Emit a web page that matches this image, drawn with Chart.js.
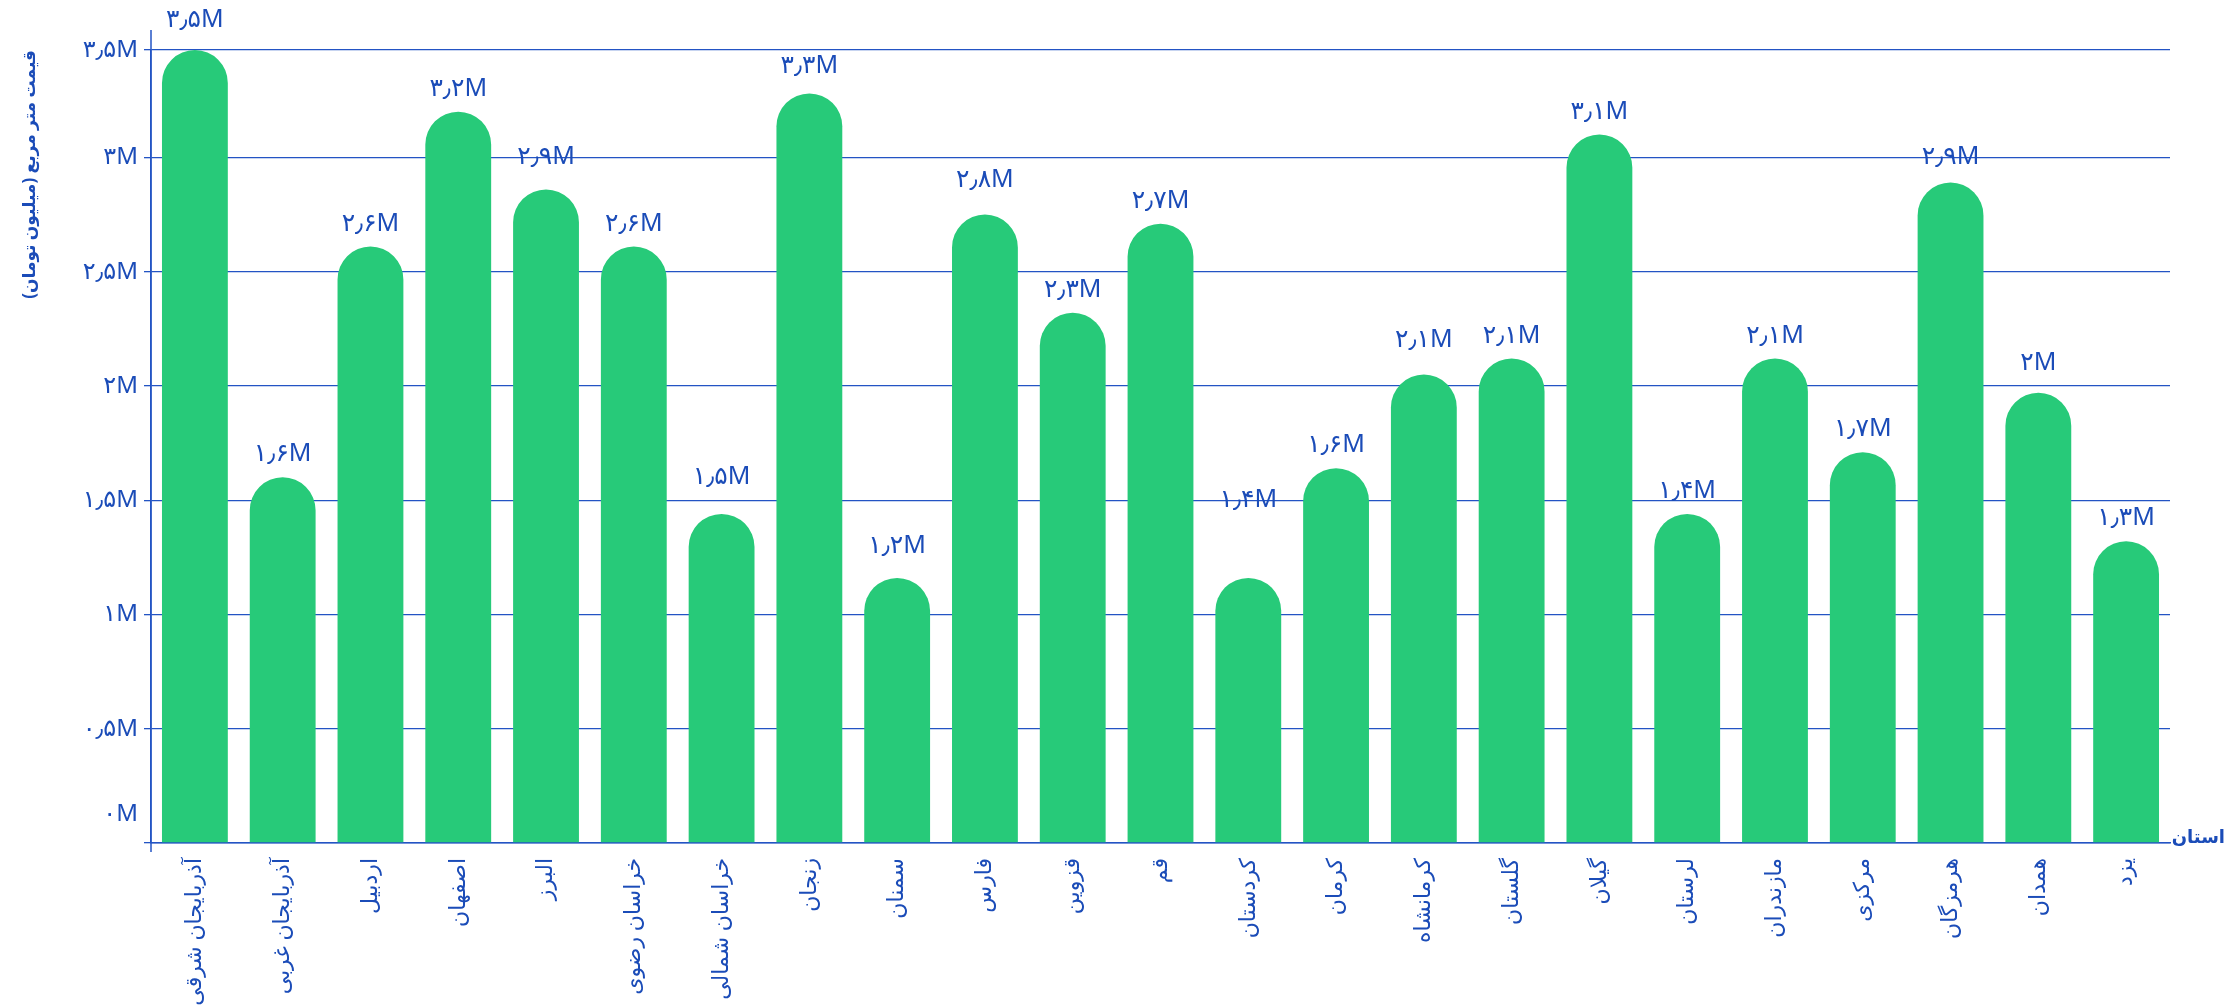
<!DOCTYPE html>
<html lang="fa">
<head>
<meta charset="utf-8">
<script src="https://cdn.jsdelivr.net/npm/chart.js@4.4.1/dist/chart.umd.min.js"></script>
<style>
    html, body { margin: 0; padding: 0; background: #ffffff; }
    #wrap { width: 2230px; height: 1007px; position: relative; }
</style>
</head>
<body>
<div id="wrap"><canvas id="chart"></canvas></div>
<script>
// Data
const provinces = [
    'آذربایجان شرقی', 'آذربایجان غربی', 'اردبیل', 'اصفهان', 'البرز', 'خراسان رضوی',
    'خراسان شمالی', 'زنجان', 'سمنان', 'فارس', 'قزوین', 'قم', 'کردستان', 'کرمان',
    'کرمانشاه', 'گلستان', 'گیلان', 'لرستان', 'مازندران', 'مرکزی', 'هرمزگان', 'همدان', 'یزد'
];
// bar heights (million toman per m2)
const pricePerMeter = [
    3.47, 1.60, 2.61, 3.20, 2.86, 2.61, 1.44, 3.28, 1.16, 2.75, 2.32, 2.71,
    1.16, 1.64, 2.05, 2.12, 3.10, 1.44, 2.12, 1.71, 2.89, 1.97, 1.32
];
// values printed above the bars
const labelValues = [
    3.5, 1.6, 2.6, 3.2, 2.9, 2.6, 1.5, 3.3, 1.2, 2.8, 2.3, 2.7,
    1.4, 1.6, 2.1, 2.1, 3.1, 1.4, 2.1, 1.7, 2.9, 2, 1.3
];
const yMax = 3.47;
const yTickValues = [0, 0.5, 1, 1.5, 2, 2.5, 3, yMax];

const yTitle = 'قیمت متر مربع (میلیون تومان)';
const xTitle = 'استان';

// Colors / fonts
const BLUE = '#1b4cb8';
const LINE = '#2354c4';
const GREEN = '#27ca79';
const FONT = "'Noto Sans', 'DejaVu Sans', sans-serif";

const faDigits = '۰۱۲۳۴۵۶۷۸۹';
function toFa(v) {
    let s = (Math.round(v * 10) / 10).toFixed(1).replace(/\.0$/, '');
    s = s.replace('.', '٫').replace(/\d/g, d => faDigits[d]);
    return s + 'M';
}

// value labels above bars + x axis title + longer y axis line
const extrasPlugin = {
    id: 'extras',
    beforeDatasetsDraw(chart) {
        const { ctx, chartArea } = chart;
        ctx.save();
        ctx.strokeStyle = LINE;
        ctx.lineWidth = 1.5;
        ctx.beginPath();
        ctx.moveTo(chartArea.left, chartArea.top - 20);
        ctx.lineTo(chartArea.left, chartArea.bottom + 9);
        ctx.stroke();
        ctx.restore();
    },
    afterDatasetsDraw(chart) {
        const { ctx, chartArea, width } = chart;
        const yScale = chart.scales.y;
        const meta = chart.getDatasetMeta(0);
        ctx.save();
        ctx.fillStyle = BLUE;
        ctx.font = `25px ${FONT}`;
        ctx.textAlign = 'center';
        ctx.textBaseline = 'alphabetic';
        meta.data.forEach((bar, i) => {
            const y = Math.min(bar.y, yScale.getPixelForValue(labelValues[i]));
            ctx.fillText(toFa(labelValues[i]), bar.x, y - 16);
        });
        ctx.font = `bold 18px ${FONT}`;
        ctx.textAlign = 'right';
        ctx.textBaseline = 'middle';
        ctx.fillText(xTitle, width - 5, chartArea.bottom - 5);
        ctx.restore();
    }
};

new Chart(document.getElementById('chart'), {
    type: 'bar',
    data: {
        labels: provinces,
        datasets: [{
            data: pricePerMeter,
            backgroundColor: GREEN,
            borderWidth: 0,
            borderSkipped: 'start',
            borderRadius: { topLeft: 100, topRight: 100, bottomLeft: 0, bottomRight: 0 },
            categoryPercentage: 1,
            barPercentage: 0.75
        }]
    },
    options: {
        responsive: true,
        maintainAspectRatio: false,
        animation: false,
        layout: { padding: { top: 50, right: 60, left: 0, bottom: 0 } },
        plugins: { legend: { display: false }, tooltip: { enabled: false } },
        scales: {
            x: {
                grid: { display: false },
                border: { display: true, color: LINE, width: 1.5 },
                ticks: {
                    color: BLUE,
                    font: { family: FONT, size: 22 },
                    autoSkip: false,
                    minRotation: 90,
                    maxRotation: 90,
                    padding: 7
                },
                afterFit: (scale) => { scale.height = 164; }
            },
            y: {
                min: 0,
                max: yMax,
                afterBuildTicks: (scale) => { scale.ticks = yTickValues.map(v => ({ value: v })); },
                afterFit: (scale) => { scale.width = 151; },
                grid: { color: LINE, lineWidth: 1.3, tickLength: 7, drawTicks: true },
                border: { display: true, color: LINE, width: 1.5 },
                ticks: {
                    color: BLUE,
                    font: { family: FONT, size: 24 },
                    padding: 6,
                    callback: (v) => v === 0 ? [toFa(v), '', ''] : toFa(v)
                },
                title: {
                    display: true,
                    text: yTitle,
                    align: 'end',
                    color: BLUE,
                    font: { family: FONT, size: 17, weight: 'bold' },
                    padding: { top: 20, bottom: 0 }
                }
            }
        }
    },
    plugins: [extrasPlugin]
});
</script>
</body>
</html>
